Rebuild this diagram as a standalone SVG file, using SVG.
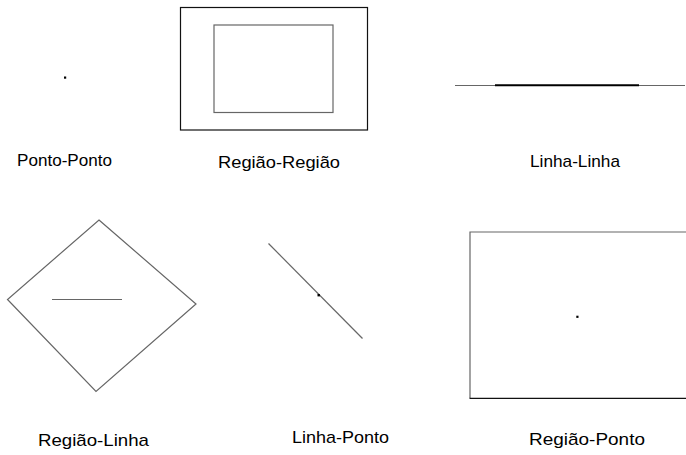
<svg xmlns="http://www.w3.org/2000/svg" width="686" height="455" viewBox="0 0 686 455">
<style>
.lbl{font-family:"Liberation Sans",Arial,sans-serif;font-size:17px;fill:#000}
.thin{fill:none;stroke:#666;stroke-width:1.2}
.dark{fill:none;stroke:#111;stroke-width:1.2}
.pt{fill:#000}
</style>
<rect width="686" height="455" fill="#fff"/>
<g id="ponto-ponto">
<rect class="pt" x="64" y="76.5" width="2.2" height="2.2"/>
<text class="lbl" x="17" y="166" textLength="95" lengthAdjust="spacingAndGlyphs">Ponto-Ponto</text>
</g>
<g id="regiao-regiao">
<rect class="dark" x="180.5" y="7.5" width="187" height="122.5"/>
<rect class="thin" x="214" y="25" width="119" height="87.5"/>
<text class="lbl" x="218" y="168" textLength="122" lengthAdjust="spacingAndGlyphs">Região-Região</text>
</g>
<g id="linha-linha">
<line class="thin" x1="455" y1="85.5" x2="685" y2="85.5"/>
<line x1="495" y1="85.3" x2="639" y2="85.3" stroke="#000" stroke-width="2"/>
<text class="lbl" x="530" y="167" textLength="90" lengthAdjust="spacingAndGlyphs">Linha-Linha</text>
</g>
<g id="regiao-linha">
<polygon class="thin" points="99,220 196,304 96,391.5 7.5,299.5"/>
<line class="thin" x1="52" y1="299.5" x2="122" y2="299.5" stroke-width="1.5"/>
<text class="lbl" x="38" y="446" textLength="111" lengthAdjust="spacingAndGlyphs">Região-Linha</text>
</g>
<g id="linha-ponto">
<line class="thin" x1="268.5" y1="243.5" x2="362.5" y2="338.5"/>
<rect class="pt" x="317.5" y="294" width="2.4" height="2.4"/>
<text class="lbl" x="292" y="443" textLength="97" lengthAdjust="spacingAndGlyphs">Linha-Ponto</text>
</g>
<g id="regiao-ponto">
<polyline class="thin" points="690,232 470,232 470,398"/>
<line class="dark" x1="469.5" y1="398.3" x2="690" y2="398.3"/>
<rect class="pt" x="576.3" y="315.7" width="2.2" height="2.2"/>
<text class="lbl" x="529" y="445" textLength="116" lengthAdjust="spacingAndGlyphs">Região-Ponto</text>
</g>
</svg>
